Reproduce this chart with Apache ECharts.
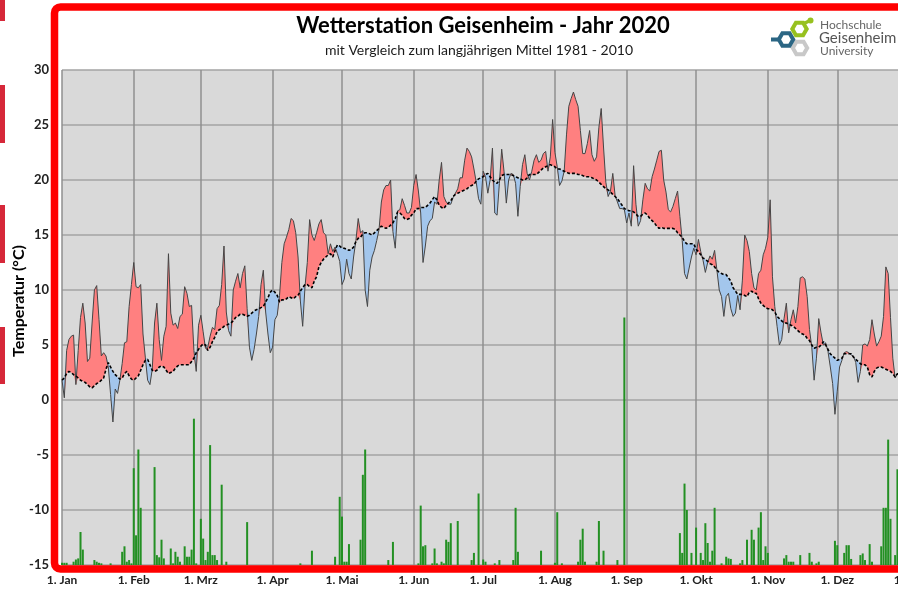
<!DOCTYPE html>
<html>
<head>
<meta charset="utf-8">
<script src="https://cdn.jsdelivr.net/npm/echarts@6/dist/echarts.min.js"></script>
<style>
html, body { margin: 0; padding: 0; background: #fff; overflow: hidden; }
#chart { width: 912px; height: 592px; }
</style>
</head>
<body>
<div id="chart"></div>
<script>
// Tagesmittel 2020 (°C), je Monat
const tJan = [1.8, 0.2, 4.5, 5.5, 5.8, 5.9, 1.4, 4.5, 7.5, 8.8, 7.0, 3.5, 3.8, 7.0, 10.0, 10.4, 7.3, 4.0, 4.3, 4.0, 3.0, 0.5, -2.0, 1.0, 0.6, 1.8, 3.3, 5.2, 5.3, 8.5, 10.5];
const tFeb = [12.5, 10.3, 10.2, 10.5, 6.0, 3.9, 1.8, 1.4, 2.8, 7.0, 8.8, 5.5, 3.6, 5.8, 6.7, 13.3, 7.9, 6.8, 7.0, 6.5, 7.6, 7.8, 10.3, 9.7, 8.5, 8.6, 4.5, 2.6, 6.8];
const tMar = [7.7, 6.2, 4.7, 4.8, 5.8, 6.6, 6.4, 8.3, 8.6, 10.5, 14.0, 8.0, 6.3, 5.8, 10.0, 10.8, 11.5, 10.2, 11.5, 12.2, 8.3, 4.8, 3.6, 4.6, 6.0, 7.6, 10.5, 11.8, 8.0, 6.0, 4.3];
const tApr = [4.8, 7.3, 7.7, 9.5, 12.5, 14.2, 14.8, 15.5, 16.5, 16.3, 15.2, 13.0, 9.0, 6.7, 10.3, 12.5, 16.4, 15.0, 14.5, 15.2, 16.0, 16.4, 15.2, 15.0, 13.3, 14.2, 13.5, 13.9, 13.3, 12.6];
const tMai = [10.5, 11.0, 12.8, 11.5, 11.0, 13.0, 14.5, 16.5, 15.2, 15.4, 10.0, 8.5, 11.8, 13.0, 13.6, 14.5, 15.5, 18.0, 19.1, 19.5, 19.5, 20.0, 15.3, 13.8, 17.2, 17.3, 18.3, 17.7, 17.0, 17.0, 17.5];
const tJun = [19.5, 20.5, 19.0, 17.0, 12.5, 14.0, 15.8, 16.3, 16.5, 18.0, 17.8, 20.0, 21.6, 18.5, 18.0, 17.8, 17.8, 18.4, 18.8, 19.2, 20.2, 20.2, 21.8, 22.9, 22.6, 22.1, 21.0, 19.8, 18.3, 17.8];
const tJul = [20.8, 20.3, 18.8, 20.0, 22.9, 17.0, 16.8, 19.7, 22.8, 20.8, 17.9, 20.0, 20.6, 20.5, 19.7, 16.7, 19.4, 21.4, 22.3, 20.6, 20.0, 20.8, 21.8, 22.3, 21.6, 21.8, 22.4, 22.6, 20.8, 22.1, 25.5];
const tAug = [22.5, 21.2, 19.5, 19.9, 20.8, 24.1, 26.7, 27.4, 28.0, 27.3, 26.7, 24.5, 22.4, 22.4, 23.3, 24.5, 22.3, 21.7, 22.1, 24.8, 26.5, 23.0, 19.8, 18.5, 19.0, 20.6, 18.6, 18.0, 17.4, 17.4, 17.3];
const tSep = [16.1, 17.0, 15.8, 21.3, 17.8, 15.8, 16.3, 18.2, 19.7, 19.2, 19.0, 20.3, 21.0, 21.8, 22.6, 22.7, 20.0, 18.9, 17.3, 17.1, 17.6, 18.3, 19.0, 16.7, 14.5, 11.5, 11.0, 12.0, 13.0, 13.8];
const tOkt = [13.2, 14.6, 13.5, 12.7, 11.6, 12.5, 13.1, 12.8, 13.6, 11.8, 10.0, 9.4, 7.6, 9.4, 9.7, 8.3, 7.6, 7.9, 9.5, 8.2, 10.9, 15.0, 14.5, 13.5, 11.5, 10.2, 10.0, 11.5, 11.8, 13.2, 13.8];
const tNov = [14.8, 18.2, 11.2, 8.5, 6.7, 5.0, 5.5, 7.4, 8.8, 6.1, 7.3, 8.2, 7.0, 8.5, 11.1, 11.2, 11.0, 9.4, 6.4, 4.8, 1.8, 3.8, 7.4, 6.1, 5.0, 5.2, 4.4, 3.0, 1.5, -1.3];
const tDez = [0.8, 3.0, 3.6, 4.3, 4.4, 4.3, 4.1, 4.0, 3.4, 1.6, 2.6, 5.0, 5.1, 4.9, 5.5, 7.3, 6.0, 4.9, 5.3, 5.8, 7.6, 12.1, 11.5, 7.5, 3.8, 2.0, 2.4, 2.6, 3.2, 3.0, 2.6];

// langjähriges Mittel 1981 - 2010 (°C)
const mJan = [1.8, 2.0, 2.4, 2.6, 2.5, 2.3, 2.2, 2.0, 1.8, 1.7, 1.6, 1.4, 1.2, 1.1, 1.3, 1.5, 1.6, 1.8, 2.0, 2.8, 3.4, 3.0, 2.6, 2.3, 2.1, 1.9, 2.0, 2.4, 2.6, 2.2, 1.9];
const mFeb = [1.8, 2.0, 2.2, 2.7, 3.2, 3.6, 3.7, 3.2, 2.7, 2.6, 2.7, 3.0, 3.1, 3.0, 2.7, 2.4, 2.5, 2.6, 2.9, 3.1, 3.2, 3.2, 3.2, 3.2, 3.2, 3.5, 3.8, 4.3, 4.6];
const mMar = [4.9, 5.1, 5.0, 4.5, 4.8, 5.3, 5.7, 6.2, 6.4, 6.5, 6.7, 6.8, 6.9, 7.0, 7.2, 7.5, 7.6, 7.8, 7.8, 7.7, 7.6, 7.7, 7.9, 8.1, 8.2, 8.3, 8.4, 8.5, 8.9, 9.3, 9.8];
const mApr = [10.0, 9.8, 9.5, 8.9, 9.1, 9.1, 9.2, 9.4, 9.3, 9.2, 9.4, 9.5, 9.9, 10.2, 10.5, 10.5, 10.3, 10.2, 10.8, 11.2, 12.1, 12.5, 12.8, 13.0, 13.2, 13.3, 13.0, 13.6, 14.1, 14.0];
const mMai = [13.8, 13.8, 13.7, 13.6, 13.7, 13.9, 14.4, 14.7, 14.8, 15.1, 15.2, 15.2, 15.1, 15.0, 15.2, 15.4, 15.6, 15.8, 15.7, 15.6, 15.7, 15.9, 16.1, 16.5, 17.1, 17.0, 16.8, 16.5, 16.4, 16.5, 16.8];
const mJun = [17.0, 17.4, 17.4, 17.5, 17.5, 17.5, 17.7, 17.9, 18.2, 18.5, 18.2, 17.7, 17.5, 17.4, 17.7, 17.9, 18.1, 18.5, 18.7, 18.8, 18.9, 19.0, 19.1, 19.2, 19.4, 19.5, 19.6, 19.9, 20.1, 20.2];
const mJul = [20.3, 20.5, 20.6, 20.3, 20.0, 19.8, 19.7, 20.0, 20.4, 20.5, 20.5, 20.5, 20.5, 20.4, 20.3, 20.2, 20.1, 20.0, 20.0, 20.2, 20.5, 20.5, 20.5, 20.5, 20.7, 20.9, 21.1, 21.2, 21.3, 21.4, 21.3];
const mAug = [21.2, 21.0, 21.0, 20.9, 20.8, 20.7, 20.6, 20.6, 20.6, 20.6, 20.5, 20.5, 20.4, 20.3, 20.3, 20.3, 20.2, 20.1, 20.0, 19.8, 19.6, 19.4, 19.2, 19.1, 18.9, 18.7, 18.5, 18.3, 18.0, 17.7, 17.4];
const mSep = [17.3, 17.2, 17.2, 17.1, 16.9, 16.7, 16.7, 16.9, 17.0, 16.8, 16.5, 16.3, 16.1, 15.8, 15.6, 15.7, 15.6, 15.6, 15.6, 15.6, 15.6, 15.5, 15.2, 15.0, 14.8, 14.4, 14.2, 14.2, 14.2, 14.2];
const mOkt = [13.7, 13.5, 13.2, 12.9, 12.8, 12.6, 12.4, 12.3, 12.1, 11.8, 11.6, 11.5, 11.4, 11.4, 11.1, 10.8, 10.2, 9.9, 9.6, 9.6, 9.6, 9.5, 9.4, 9.8, 9.9, 9.7, 9.7, 9.2, 8.8, 8.6, 8.4];
const mNov = [8.3, 8.3, 8.2, 8.0, 7.6, 7.4, 7.2, 7.0, 7.0, 6.9, 6.8, 6.7, 6.5, 6.3, 6.1, 6.0, 5.9, 5.6, 5.4, 5.0, 4.7, 4.8, 4.8, 5.0, 5.3, 5.0, 4.6, 4.2, 4.0, 3.8];
const mDez = [3.6, 3.7, 3.8, 4.2, 4.2, 4.2, 4.2, 3.9, 3.7, 3.5, 3.3, 3.2, 3.2, 3.0, 2.3, 2.1, 2.6, 2.9, 3.0, 3.0, 2.9, 2.8, 2.7, 2.6, 2.4, 2.1, 2.4, 2.3, 2.3, 2.2, 2.2];

// Niederschlag (mm) als [Tag im Monat, mm]
const rJan = [[1, 0.2], [2, 0.2], [3, 0.2], [6, 0.3], [7, 0.5], [8, 0.6], [9, 3.0], [10, 1.4], [15, 0.45], [16, 0.3], [17, 0.2], [18, 0.15], [22, 0.15], [27, 1.2], [28, 1.7], [29, 0.3], [30, 0.45], [31, 0.15]];
const rFeb = [[1, 8.8], [2, 2.7], [3, 10.5], [4, 5.2], [10, 8.9], [11, 0.9], [12, 0.7], [13, 2.3], [14, 0.6], [17, 1.5], [18, 0.15], [19, 1.2], [20, 0.75], [21, 0.3], [23, 1.7], [24, 0.75], [25, 0.75], [26, 1.4], [27, 13.3], [28, 0.15]];
const rMar = [[1, 4.2], [2, 2.4], [3, 0.45], [4, 1.2], [5, 10.9], [6, 0.9], [7, 0.9], [8, 0.45], [10, 7.3], [12, 0.3], [21, 3.9]];
const rApr = [[13, 0.15], [18, 1.3], [28, 0.75], [30, 6.2]];
const rMai = [[1, 4.4], [2, 0.3], [3, 0.3], [4, 1.9], [9, 2.3], [10, 8.2], [11, 10.5], [21, 0.45], [23, 2.1]];
const rJun = [[3, 0.15], [4, 5.4], [5, 1.7], [6, 1.8], [9, 0.15], [10, 1.5], [11, 0.15], [13, 0.3], [14, 0.15], [15, 2.3], [16, 2.1], [17, 3.8], [20, 4.0], [26, 0.45], [27, 1.1], [29, 6.5]];
const rJul = [[1, 0.5], [2, 0.3], [6, 0.15], [8, 0.45], [14, 0.45], [15, 5.2], [16, 1.2], [26, 1.3]];
const rAug = [[1, 0.2], [2, 4.8], [4, 0.15], [11, 0.3], [12, 2.3], [13, 3.3], [14, 0.3], [19, 0.3], [20, 4.0], [22, 1.3], [28, 0.45], [31, 22.5]];
const rSep = [[24, 2.9], [25, 1.1], [26, 7.4], [27, 5.0], [29, 1.1]];
const rOkt = [[1, 3.4], [3, 1.1], [4, 0.45], [5, 3.8], [6, 2.0], [7, 0.3], [8, 1.3], [9, 5.2], [12, 0.15], [14, 0.75], [15, 0.6], [16, 0.55], [20, 0.15], [21, 0.45], [23, 2.3], [25, 3.2], [26, 2.3], [28, 3.4], [29, 4.8], [30, 0.45], [31, 1.7]];
const rNov = [[1, 1.1], [8, 0.6], [9, 0.9], [10, 0.3], [11, 0.3], [12, 0.3], [15, 0.9], [19, 1.1], [20, 0.3], [22, 0.15], [23, 0.3], [30, 2.2]];
const rDez = [[1, 1.8], [4, 1.1], [5, 1.8], [6, 1.8], [7, 0.55], [11, 0.9], [12, 1.05], [13, 0.45], [15, 1.9], [16, 0.3], [20, 1.7], [21, 5.2], [22, 5.2], [23, 11.4], [24, 4.2], [26, 0.9], [27, 8.7]];

// Achse: Monatsanfänge (Tag im Jahr) und Beschriftungen
const monthStarts = [0, 31, 60, 91, 121, 152, 182, 213, 244, 274, 305, 335, 366];
const monthLabels = ['1. Jan', '1. Feb', '1. Mrz', '1. Apr', '1. Mai', '1. Jun', '1. Jul', '1. Aug', '1. Sep', '1. Okt', '1. Nov', '1. Dez', '1. Jan'];
const yTicks = [-15, -10, -5, 0, 5, 10, 15, 20, 25, 30];

const temp = [].concat(tJan, tFeb, tMar, tApr, tMai, tJun, tJul, tAug, tSep, tOkt, tNov, tDez);
const mean = [].concat(mJan, mFeb, mMar, mApr, mMai, mJun, mJul, mAug, mSep, mOkt, mNov, mDez);
const rainMonths = [rJan, rFeb, rMar, rApr, rMai, rJun, rJul, rAug, rSep, rOkt, rNov, rDez];

const cats = [];
for (let i = 0; i <= 366; i++) cats.push(String(i));

const rain = cats.map(() => null);
rainMonths.forEach((list, m) => {
  list.forEach(([d, v]) => { rain[monthStarts[m] + d - 1] = v; });
});

// Flächen zwischen Tageswert und Mittel
const lower = temp.map((t, i) => Math.min(t, mean[i]));
const above = temp.map((t, i) => Math.max(t - mean[i], 0));
const below = temp.map((t, i) => Math.max(mean[i] - t, 0));

const isMonthStart = (i) => monthStarts.indexOf(i) !== -1;

function hex(cx, cy, r) {
  const pts = [];
  for (let k = 0; k < 6; k++) {
    const a = Math.PI / 3 * k;
    pts.push([cx + r * Math.cos(a), cy + r * Math.sin(a)]);
  }
  return pts;
}

const font = 'Lato, "Open Sans", sans-serif';
const chart = echarts.init(document.getElementById('chart'));

chart.setOption({
  animation: false,
  grid: {
    left: 62, right: 3, top: 70, bottom: 27,
    outerBoundsMode: 'none',
    containLabel: false,
    show: true, backgroundColor: '#d9d9d9', borderWidth: 0
  },
  xAxis: {
    type: 'category',
    data: cats,
    boundaryGap: false,
    axisLine: { show: false },
    axisTick: { show: false },
    axisLabel: {
      interval: (i) => isMonthStart(i),
      formatter: (v) => monthLabels[monthStarts.indexOf(Number(v))],
      alignMinLabel: 'center',
      alignMaxLabel: 'center',
      margin: 9,
      color: '#222',
      fontFamily: font,
      fontWeight: 'bold',
      fontSize: 12
    },
    splitLine: {
      show: true,
      interval: (i) => isMonthStart(i),
      lineStyle: { color: '#8f8f8f', width: 1.5 }
    }
  },
  yAxis: [{
    type: 'value',
    min: yTicks[0],
    max: yTicks[yTicks.length - 1],
    interval: 5,
    axisLine: { show: false },
    axisTick: { show: false },
    axisLabel: {
      margin: 13,
      color: '#222',
      fontFamily: font,
      fontWeight: 'bold',
      fontSize: 13
    },
    splitLine: { lineStyle: { color: '#a3a3a3', width: 1.5 } }
  }, {
    type: 'value',
    min: 0,
    max: 45,
    show: false,
    splitLine: { show: false }
  }],
  series: [
    {
      type: 'line', data: lower, stack: 'dev', stackStrategy: 'all',
      symbol: 'none', lineStyle: { opacity: 0 }, silent: true
    },
    {
      type: 'line', data: above, stack: 'dev', stackStrategy: 'all',
      symbol: 'none', lineStyle: { opacity: 0 },
      areaStyle: { color: '#ff8080', opacity: 1 }
    },
    {
      type: 'line', data: below, stack: 'dev', stackStrategy: 'all',
      symbol: 'none', lineStyle: { opacity: 0 },
      areaStyle: { color: '#a3c6ec', opacity: 1 }
    },
    {
      type: 'bar', data: rain, yAxisIndex: 1, barWidth: 2,
      itemStyle: { color: '#239023' }
    },
    {
      type: 'line', data: temp, symbol: 'none',
      lineStyle: { color: '#454545', width: 1 }
    },
    {
      type: 'line', data: mean, symbol: 'none',
      lineStyle: { color: '#000', width: 1.6, type: [3, 2] }
    }
  ],
  graphic: [
    { type: 'rect', shape: { x: 0, y: 0, width: 5, height: 21 }, style: { fill: '#d62839' } },
    { type: 'rect', shape: { x: 0, y: 85, width: 5, height: 58 }, style: { fill: '#d62839' } },
    { type: 'rect', shape: { x: 0, y: 205, width: 5, height: 58 }, style: { fill: '#d62839' } },
    { type: 'rect', shape: { x: 0, y: 327, width: 5, height: 57 }, style: { fill: '#d62839' } },
    {
      type: 'text', x: 483, y: 26,
      style: { text: 'Wetterstation Geisenheim - Jahr 2020', font: 'bold 22px ' + font, fill: '#000', textAlign: 'center', textVerticalAlign: 'middle' }
    },
    {
      type: 'text', x: 479, y: 50,
      style: { text: 'mit Vergleich zum langjährigen Mittel 1981 - 2010', font: '14px ' + font, fill: '#1a1a1a', textAlign: 'center', textVerticalAlign: 'middle' }
    },
    {
      type: 'text', x: 19, y: 301, rotation: Math.PI / 2,
      style: { text: 'Temperatur (°C)', font: 'bold 16px ' + font, fill: '#000', textAlign: 'center', textVerticalAlign: 'middle' }
    },
    // Logo
    { type: 'polygon', shape: { points: hex(800, 48, 7.2) }, style: { fill: 'rgba(0,0,0,0)', stroke: '#c8c8c8', lineWidth: 4 } },
    { type: 'line', shape: { x1: 771, y1: 39.5, x2: 779, y2: 39.5 }, style: { stroke: '#2b6684', lineWidth: 4 } },
    { type: 'polygon', shape: { points: hex(786, 39.5, 7.2) }, style: { fill: 'rgba(0,0,0,0)', stroke: '#2b6684', lineWidth: 4 } },
    { type: 'polygon', shape: { points: hex(799.5, 29, 7.2) }, style: { fill: 'rgba(0,0,0,0)', stroke: '#97c11f', lineWidth: 4 } },
    { type: 'line', shape: { x1: 803, y1: 24, x2: 809, y2: 21 }, style: { stroke: '#97c11f', lineWidth: 3.5 } },
    { type: 'circle', shape: { cx: 810.5, cy: 20.5, r: 3 }, style: { fill: '#97c11f' } },
    { type: 'text', x: 820, y: 25, style: { text: 'Hochschule', font: '12px ' + font, fill: '#666', textVerticalAlign: 'middle' } },
    { type: 'text', x: 819, y: 38.5, style: { text: 'Geisenheim', font: '15px ' + font, fill: '#555', textVerticalAlign: 'middle' } },
    { type: 'text', x: 820, y: 51.5, style: { text: 'University', font: '12px ' + font, fill: '#666', textVerticalAlign: 'middle' } },
    // roter Rahmen
    {
      type: 'rect', z: 100,
      shape: { x: 54.5, y: 7, width: 900, height: 562, r: 6 },
      style: { fill: 'rgba(0,0,0,0)', stroke: '#ff0000', lineWidth: 7.5 }
    }
  ]
});
</script>
</body>
</html>
